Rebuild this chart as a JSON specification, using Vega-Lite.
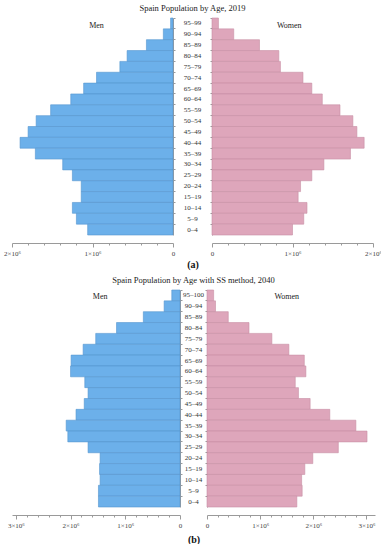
{
  "$schema": "https://vega.github.io/schema/vega-lite/v6.json",
  "background": "white",
  "padding": {"left": 3, "top": 3, "right": 0, "bottom": 0},
  "config": {
    "font": "Liberation Serif",
    "view": {"stroke": null},
    "axis": {"domainColor": "#9a9a9a", "tickColor": "#9a9a9a", "labelColor": "#444444", "labelFont": "Liberation Serif", "grid": false}
  },
  "datasets": {
    "y2019": [
      {"age": "95–99", "sex": "Men", "pop": 30000}, {"age": "90–94", "sex": "Men", "pop": 120000},
      {"age": "85–89", "sex": "Men", "pop": 330000}, {"age": "80–84", "sex": "Men", "pop": 570000},
      {"age": "75–79", "sex": "Men", "pop": 660000}, {"age": "70–74", "sex": "Men", "pop": 950000},
      {"age": "65–69", "sex": "Men", "pop": 1110000}, {"age": "60–64", "sex": "Men", "pop": 1270000},
      {"age": "55–59", "sex": "Men", "pop": 1520000}, {"age": "50–54", "sex": "Men", "pop": 1700000},
      {"age": "45–49", "sex": "Men", "pop": 1800000}, {"age": "40–44", "sex": "Men", "pop": 1900000},
      {"age": "35–39", "sex": "Men", "pop": 1710000}, {"age": "30–34", "sex": "Men", "pop": 1370000},
      {"age": "25–29", "sex": "Men", "pop": 1250000}, {"age": "20–24", "sex": "Men", "pop": 1140000},
      {"age": "15–19", "sex": "Men", "pop": 1140000}, {"age": "10–14", "sex": "Men", "pop": 1250000},
      {"age": "5–9", "sex": "Men", "pop": 1200000}, {"age": "0–4", "sex": "Men", "pop": 1060000},
      {"age": "95–99", "sex": "Women", "pop": 80000}, {"age": "90–94", "sex": "Women", "pop": 270000},
      {"age": "85–89", "sex": "Women", "pop": 590000}, {"age": "80–84", "sex": "Women", "pop": 830000},
      {"age": "75–79", "sex": "Women", "pop": 850000}, {"age": "70–74", "sex": "Women", "pop": 1130000},
      {"age": "65–69", "sex": "Women", "pop": 1240000}, {"age": "60–64", "sex": "Women", "pop": 1370000},
      {"age": "55–59", "sex": "Women", "pop": 1590000}, {"age": "50–54", "sex": "Women", "pop": 1750000},
      {"age": "45–49", "sex": "Women", "pop": 1800000}, {"age": "40–44", "sex": "Women", "pop": 1890000},
      {"age": "35–39", "sex": "Women", "pop": 1720000}, {"age": "30–34", "sex": "Women", "pop": 1390000},
      {"age": "25–29", "sex": "Women", "pop": 1240000}, {"age": "20–24", "sex": "Women", "pop": 1100000},
      {"age": "15–19", "sex": "Women", "pop": 1070000}, {"age": "10–14", "sex": "Women", "pop": 1180000},
      {"age": "5–9", "sex": "Women", "pop": 1140000}, {"age": "0–4", "sex": "Women", "pop": 1000000}
    ],
    "y2040": [
      {"age": "95–100", "sex": "Men", "pop": 150000}, {"age": "90–94", "sex": "Men", "pop": 290000},
      {"age": "85–89", "sex": "Men", "pop": 670000}, {"age": "80–84", "sex": "Men", "pop": 1160000},
      {"age": "75–79", "sex": "Men", "pop": 1540000}, {"age": "70–74", "sex": "Men", "pop": 1770000},
      {"age": "65–69", "sex": "Men", "pop": 1990000}, {"age": "60–64", "sex": "Men", "pop": 2000000},
      {"age": "55–59", "sex": "Men", "pop": 1740000}, {"age": "50–54", "sex": "Men", "pop": 1680000},
      {"age": "45–49", "sex": "Men", "pop": 1750000}, {"age": "40–44", "sex": "Men", "pop": 1900000},
      {"age": "35–39", "sex": "Men", "pop": 2080000}, {"age": "30–34", "sex": "Men", "pop": 2050000},
      {"age": "25–29", "sex": "Men", "pop": 1680000}, {"age": "20–24", "sex": "Men", "pop": 1460000},
      {"age": "15–19", "sex": "Men", "pop": 1470000}, {"age": "10–14", "sex": "Men", "pop": 1460000},
      {"age": "5–9", "sex": "Men", "pop": 1490000}, {"age": "0–4", "sex": "Men", "pop": 1490000},
      {"age": "95–100", "sex": "Women", "pop": 125000}, {"age": "90–94", "sex": "Women", "pop": 160000},
      {"age": "85–89", "sex": "Women", "pop": 400000}, {"age": "80–84", "sex": "Women", "pop": 790000},
      {"age": "75–79", "sex": "Women", "pop": 1220000}, {"age": "70–74", "sex": "Women", "pop": 1540000},
      {"age": "65–69", "sex": "Women", "pop": 1830000}, {"age": "60–64", "sex": "Women", "pop": 1860000},
      {"age": "55–59", "sex": "Women", "pop": 1660000}, {"age": "50–54", "sex": "Women", "pop": 1720000},
      {"age": "45–49", "sex": "Women", "pop": 1940000}, {"age": "40–44", "sex": "Women", "pop": 2310000},
      {"age": "35–39", "sex": "Women", "pop": 2800000}, {"age": "30–34", "sex": "Women", "pop": 3010000},
      {"age": "25–29", "sex": "Women", "pop": 2470000}, {"age": "20–24", "sex": "Women", "pop": 1990000},
      {"age": "15–19", "sex": "Women", "pop": 1840000}, {"age": "10–14", "sex": "Women", "pop": 1780000},
      {"age": "5–9", "sex": "Women", "pop": 1790000}, {"age": "0–4", "sex": "Women", "pop": 1690000}
    ]
  },
  "vconcat": [
    {
      "hconcat": [
        {
          "width": 161, "height": 217,
          "data": {"name": "y2019"},
          "transform": [{"filter": "datum.sex == 'Men'"}],
          "encoding": {
            "y": {"field": "age", "type": "nominal", "scale": {"domain": ["95–99","90–94","85–89","80–84","75–79","70–74","65–69","60–64","55–59","50–54","45–49","40–44","35–39","30–34","25–29","20–24","15–19","10–14","5–9","0–4"], "paddingInner": 0, "paddingOuter": 0}}
          },
          "layer": [
            {
              "mark": {"type": "bar", "fill": "#6cb0ea", "stroke": "#5596cf", "strokeWidth": 0.6},
              "encoding": {
                "y": {"field": "age", "type": "nominal", "axis": {"orient": "right", "labels": false, "title": null, "bandPosition": 0, "tickSize": 2}},
                "x": {"field": "pop", "type": "quantitative", "scale": {"domain": [0, 2000000], "reverse": true, "nice": false}, "axis": {"title": null, "offset": 8, "values": [0, 1000000, 2000000], "labelExpr": "datum.value == 0 ? '0' : format(datum.value / 1000000, 'd') + '×10⁶'", "tickSize": 4, "labelOverlap": false, "labelFlush": false, "labelFontSize": 7, "labelPadding": 2}}
              }
            },
            {
              "mark": {"type": "bar", "opacity": 0},
              "encoding": {
                "y": {"field": "age", "type": "nominal", "axis": null},
                "x": {"field": "pop", "type": "quantitative", "axis": {"orient": "bottom", "title": null, "offset": 8, "values": [200000, 400000, 600000, 800000, 1200000, 1400000, 1600000, 1800000], "labels": false, "domain": false, "tickSize": 2}}
              }
            },
            {
              "data": {"values": [{"label": "Men"}]},
              "transform": [],
              "mark": {"type": "text", "fontSize": 8, "dy": 3, "color": "#222222"},
              "encoding": {"x": {"datum": 950000, "axis": null}, "y": {"datum": "95–99", "axis": null}, "text": {"field": "label"}}
            }
          ],
          "resolve": {"axis": {"x": "independent", "y": "independent"}}
        },
        {
          "width": 39, "height": 217,
          "data": {"name": "y2019"},
          "transform": [{"filter": "datum.sex == 'Men'"}],
          "title": {"text": "Spain Population by Age, 2019", "fontSize": 8.5, "fontWeight": "normal", "font": "Liberation Serif", "color": "#222222", "anchor": "middle", "offset": 6},
          "mark": {"type": "text", "fontSize": 7, "color": "#333333"},
          "encoding": {
            "y": {"field": "age", "type": "nominal", "scale": {"domain": ["95–99","90–94","85–89","80–84","75–79","70–74","65–69","60–64","55–59","50–54","45–49","40–44","35–39","30–34","25–29","20–24","15–19","10–14","5–9","0–4"], "paddingInner": 0, "paddingOuter": 0}, "axis": null},
            "x": {"datum": 0, "type": "quantitative", "scale": {"domain": [-1, 1]}, "axis": {"title": "(a)", "labels": false, "ticks": false, "domain": false, "titleFontSize": 10, "titleFontWeight": "bold", "titleColor": "#111111", "titlePadding": 24}},
            "text": {"field": "age"}
          }
        },
        {
          "width": 161, "height": 217,
          "data": {"name": "y2019"},
          "transform": [{"filter": "datum.sex == 'Women'"}],
          "encoding": {
            "y": {"field": "age", "type": "nominal", "scale": {"domain": ["95–99","90–94","85–89","80–84","75–79","70–74","65–69","60–64","55–59","50–54","45–49","40–44","35–39","30–34","25–29","20–24","15–19","10–14","5–9","0–4"], "paddingInner": 0, "paddingOuter": 0}}
          },
          "layer": [
            {
              "mark": {"type": "bar", "fill": "#dea6bb", "stroke": "#c88ea4", "strokeWidth": 0.6},
              "encoding": {
                "y": {"field": "age", "type": "nominal", "axis": {"orient": "left", "labels": false, "title": null, "bandPosition": 0, "tickSize": 2}},
                "x": {"field": "pop", "type": "quantitative", "scale": {"domain": [0, 2000000], "nice": false}, "axis": {"title": null, "offset": 8, "values": [0, 1000000, 2000000], "labelExpr": "datum.value == 0 ? '0' : format(datum.value / 1000000, 'd') + '×10⁶'", "tickSize": 4, "labelOverlap": false, "labelFlush": false, "labelFontSize": 7, "labelPadding": 2}}
              }
            },
            {
              "mark": {"type": "bar", "opacity": 0},
              "encoding": {
                "y": {"field": "age", "type": "nominal", "axis": null},
                "x": {"field": "pop", "type": "quantitative", "axis": {"orient": "bottom", "title": null, "offset": 8, "values": [200000, 400000, 600000, 800000, 1200000, 1400000, 1600000, 1800000], "labels": false, "domain": false, "tickSize": 2}}
              }
            },
            {
              "data": {"values": [{"label": "Women"}]},
              "transform": [],
              "mark": {"type": "text", "fontSize": 8, "dy": 3, "color": "#222222"},
              "encoding": {"x": {"datum": 960000, "axis": null}, "y": {"datum": "95–99", "axis": null}, "text": {"field": "label"}}
            }
          ],
          "resolve": {"axis": {"x": "independent", "y": "independent"}}
        }
      ],
      "spacing": 0,
      "bounds": "flush"
    },
    {
      "hconcat": [
        {
          "width": 168, "height": 217,
          "data": {"name": "y2040"},
          "transform": [{"filter": "datum.sex == 'Men'"}],
          "encoding": {
            "y": {"field": "age", "type": "nominal", "scale": {"domain": ["95–100","90–94","85–89","80–84","75–79","70–74","65–69","60–64","55–59","50–54","45–49","40–44","35–39","30–34","25–29","20–24","15–19","10–14","5–9","0–4"], "paddingInner": 0, "paddingOuter": 0}}
          },
          "layer": [
            {
              "mark": {"type": "bar", "fill": "#6cb0ea", "stroke": "#5596cf", "strokeWidth": 0.6},
              "encoding": {
                "y": {"field": "age", "type": "nominal", "axis": {"orient": "right", "labels": false, "title": null, "bandPosition": 0, "tickSize": 2}},
                "x": {"field": "pop", "type": "quantitative", "scale": {"domain": [0, 3070000], "reverse": true, "nice": false}, "axis": {"title": null, "offset": 8, "values": [0, 1000000, 2000000, 3000000], "labelExpr": "datum.value == 0 ? '0' : format(datum.value / 1000000, 'd') + '×10⁶'", "tickSize": 4, "labelOverlap": false, "labelFlush": false, "labelFontSize": 7, "labelPadding": 2}}
              }
            },
            {
              "mark": {"type": "bar", "opacity": 0},
              "encoding": {
                "y": {"field": "age", "type": "nominal", "axis": null},
                "x": {"field": "pop", "type": "quantitative", "axis": {"orient": "bottom", "title": null, "offset": 8, "values": [200000, 400000, 600000, 800000, 1200000, 1400000, 1600000, 1800000, 2200000, 2400000, 2600000, 2800000], "labels": false, "domain": false, "tickSize": 2}}
              }
            },
            {
              "data": {"values": [{"label": "Men"}]},
              "transform": [],
              "mark": {"type": "text", "fontSize": 8, "dy": 2, "color": "#222222"},
              "encoding": {"x": {"datum": 1460000, "axis": null}, "y": {"datum": "95–100", "axis": null}, "text": {"field": "label"}}
            }
          ],
          "resolve": {"axis": {"x": "independent", "y": "independent"}}
        },
        {
          "width": 27, "height": 217,
          "data": {"name": "y2040"},
          "transform": [{"filter": "datum.sex == 'Men'"}],
          "title": {"text": "Spain Population by Age with SS method, 2040", "fontSize": 8.5, "fontWeight": "normal", "font": "Liberation Serif", "color": "#222222", "anchor": "middle", "offset": 6},
          "mark": {"type": "text", "fontSize": 7, "color": "#333333"},
          "encoding": {
            "y": {"field": "age", "type": "nominal", "scale": {"domain": ["95–100","90–94","85–89","80–84","75–79","70–74","65–69","60–64","55–59","50–54","45–49","40–44","35–39","30–34","25–29","20–24","15–19","10–14","5–9","0–4"], "paddingInner": 0, "paddingOuter": 0}, "axis": null},
            "x": {"datum": 0, "type": "quantitative", "scale": {"domain": [-1, 1]}, "axis": {"title": "(b)", "labels": false, "ticks": false, "domain": false, "titleFontSize": 10, "titleFontWeight": "bold", "titleColor": "#111111", "titlePadding": 27}},
            "text": {"field": "age"}
          }
        },
        {
          "width": 168, "height": 217,
          "data": {"name": "y2040"},
          "transform": [{"filter": "datum.sex == 'Women'"}],
          "encoding": {
            "y": {"field": "age", "type": "nominal", "scale": {"domain": ["95–100","90–94","85–89","80–84","75–79","70–74","65–69","60–64","55–59","50–54","45–49","40–44","35–39","30–34","25–29","20–24","15–19","10–14","5–9","0–4"], "paddingInner": 0, "paddingOuter": 0}}
          },
          "layer": [
            {
              "mark": {"type": "bar", "fill": "#dea6bb", "stroke": "#c88ea4", "strokeWidth": 0.6},
              "encoding": {
                "y": {"field": "age", "type": "nominal", "axis": {"orient": "left", "labels": false, "title": null, "bandPosition": 0, "tickSize": 2}},
                "x": {"field": "pop", "type": "quantitative", "scale": {"domain": [0, 3160000], "nice": false}, "axis": {"title": null, "offset": 8, "values": [0, 1000000, 2000000, 3000000], "labelExpr": "datum.value == 0 ? '0' : format(datum.value / 1000000, 'd') + '×10⁶'", "tickSize": 4, "labelOverlap": false, "labelFlush": false, "labelFontSize": 7, "labelPadding": 2}}
              }
            },
            {
              "mark": {"type": "bar", "opacity": 0},
              "encoding": {
                "y": {"field": "age", "type": "nominal", "axis": null},
                "x": {"field": "pop", "type": "quantitative", "axis": {"orient": "bottom", "title": null, "offset": 8, "values": [200000, 400000, 600000, 800000, 1200000, 1400000, 1600000, 1800000, 2200000, 2400000, 2600000, 2800000], "labels": false, "domain": false, "tickSize": 2}}
              }
            },
            {
              "data": {"values": [{"label": "Women"}]},
              "transform": [],
              "mark": {"type": "text", "fontSize": 8, "dy": 2, "color": "#222222"},
              "encoding": {"x": {"datum": 1500000, "axis": null}, "y": {"datum": "95–100", "axis": null}, "text": {"field": "label"}}
            }
          ],
          "resolve": {"axis": {"x": "independent", "y": "independent"}}
        }
      ],
      "spacing": 0,
      "bounds": "flush"
    }
  ],
  "spacing": 6
}
